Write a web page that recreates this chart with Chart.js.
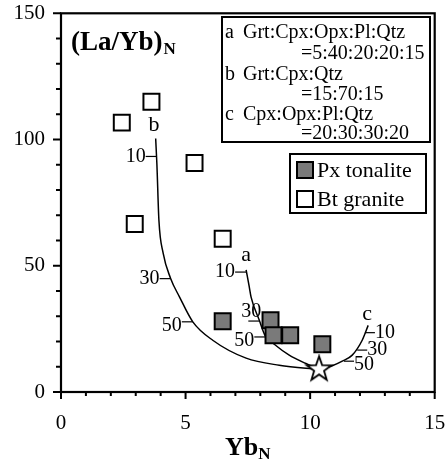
<!DOCTYPE html>
<html>
<head>
<meta charset="utf-8">
<script src="https://cdn.jsdelivr.net/npm/chart.js@4.4.1/dist/chart.umd.min.js"></script>
<style>
  body { margin: 0; background: #fff; }
  #wrap { width: 448px; height: 460px; }
</style>
</head>
<body>
<div id="wrap"><canvas id="mychart" width="448" height="460"></canvas></div>
<script>
// samples (Yb_N, (La/Yb)_N)
var pxTonalite = [[6.49, 28.0], [8.41, 28.4], [8.53, 22.5], [9.2, 22.5], [10.49, 18.9]];
var btGranite = [[3.63, 115], [2.44, 106.7], [5.36, 90.7], [2.96, 66.5], [6.49, 60.7]];
var source = [[10.36, 9.0]]; // the star

// melting curves
var curveA = [[7.43, 48.4], [7.55, 42], [7.63, 37.6], [7.96, 28.4], [8.2, 22.2], [8.56, 18.9], [9.16, 14.6], [9.83, 11.3], [10.36, 9.0]];
var curveB = [[3.80, 100.4], [3.85, 90], [3.93, 68], [4.1, 55], [4.40, 45], [4.76, 37.6], [5.29, 27.8], [6.09, 20.5], [7.43, 13.4], [8.76, 10.6], [10.09, 9.2], [10.36, 9.0]];
var curveC = [[10.36, 9.0], [10.89, 10.4], [11.29, 12.2], [11.69, 14.6], [12.09, 20.5], [12.33, 26.4]];

// % melt marks on each curve
var meltLabels = ['10', '30', '50'];
var ticksA = [[7.43, 47.5], [7.96, 28.1], [8.2, 21.8]];
var ticksB = [[3.84, 93.3], [4.40, 44.9], [5.29, 27.8]];
var ticksC = [[12.2, 23.5], [11.89, 16.6], [11.36, 12.2]];

var curveNames = ['a', 'b', 'c'];
var curveNamePos = [[7.43, 54], [3.73, 105.8], [12.29, 31]];

var mixLines = [
  ['a', 'Grt:Cpx:Opx:Pl:Qtz', '=5:40:20:20:15'],
  ['b', 'Grt:Cpx:Qtz', '=15:70:15'],
  ['c', 'Cpx:Opx:Pl:Qtz', '=20:30:30:20']
];

var xTicks = [0, 5, 10, 15];
var yTicks = [0, 50, 100, 150];

var serif = '"Liberation Serif", "Times New Roman", serif';

function toPts(arr) {
  return arr.map(function(p) { return { x: p[0], y: p[1] }; });
}

// five point star for the source point
function makeStar() {
  var c = document.createElement('canvas');
  c.width = 30; c.height = 30;
  var g = c.getContext('2d');
  var R = 13, r = 5.2;
  g.beginPath();
  for (var i = 0; i < 10; i++) {
    var rad = (i % 2 === 0) ? R : r;
    var ang = -Math.PI / 2 + i * Math.PI / 5;
    var px = 15 + rad * Math.cos(ang), py = 15 + rad * Math.sin(ang);
    if (i === 0) g.moveTo(px, py); else g.lineTo(px, py);
  }
  g.closePath();
  g.fillStyle = '#fff';
  g.fill();
  g.lineWidth = 1.8;
  g.strokeStyle = '#000';
  g.stroke();
  return c;
}

function curveSet(pts) {
  return {
    data: toPts(pts),
    showLine: true,
    borderColor: '#000',
    borderWidth: 1.5,
    pointRadius: 0,
    cubicInterpolationMode: 'monotone',
    fill: false
  };
}

// kill the auto label padding so the plot box sits where it should
function noPad(s) {
  s.paddingLeft = 0; s.paddingRight = 0; s.paddingTop = 0; s.paddingBottom = 0;
}

var decor = {
  id: 'decor',
  afterDraw: function(chart) {
    var ctx = chart.ctx;
    var xs = chart.scales.x, ys = chart.scales.y;
    var a = chart.chartArea;
    ctx.save();
    ctx.strokeStyle = '#000';
    ctx.fillStyle = '#000';

    // frame
    ctx.lineWidth = 2.2;
    ctx.strokeRect(a.left, a.top, a.right - a.left, a.bottom - a.top);

    // axis ticks (major + minor)
    ctx.lineWidth = 2;
    ctx.beginPath();
    for (var i = 0; i <= 15; i++) {
      var px = xs.getPixelForValue(i);
      var len = (i % 5 === 0) ? 7 : 4;
      ctx.moveTo(px, a.bottom);
      ctx.lineTo(px, a.bottom + len);
    }
    for (var j = 0; j <= 150; j += 10) {
      var py = ys.getPixelForValue(j);
      var l2 = (j % 50 === 0) ? 8 : 5;
      ctx.moveTo(a.left, py);
      ctx.lineTo(a.left - l2, py);
    }
    ctx.stroke();

    // melt % marks on the curves
    var sets = [ticksA, ticksB, ticksC];
    ctx.lineWidth = 1.2;
    ctx.font = '20px ' + serif;
    ctx.textBaseline = 'middle';
    sets.forEach(function(tk, ci) {
      tk.forEach(function(p, k) {
        var cx = xs.getPixelForValue(p[0]);
        var cy = ys.getPixelForValue(p[1]);
        ctx.beginPath();
        if (ci === 2) {
          // c marks point right
          ctx.moveTo(cx, cy); ctx.lineTo(cx + 10, cy); ctx.stroke();
          ctx.textAlign = 'left';
          ctx.fillText(meltLabels[k], cx + 10, cy + (k === 2 ? 4 : 0));
        } else {
          ctx.moveTo(cx, cy); ctx.lineTo(cx - 11, cy); ctx.stroke();
          ctx.textAlign = 'right';
          if (ci === 0 && k === 1) {
            ctx.fillText(meltLabels[k], cx + 2, cy - 9);
          } else {
            ctx.fillText(meltLabels[k], cx - 11, cy + (k === 2 ? 4 : 0));
          }
        }
      });
    });

    // curve letters
    ctx.font = '22px ' + serif;
    ctx.textAlign = 'center';
    curveNames.forEach(function(n, i) {
      ctx.fillText(n, xs.getPixelForValue(curveNamePos[i][0]), ys.getPixelForValue(curveNamePos[i][1]));
    });

    // y title inside the plot
    ctx.textAlign = 'left';
    ctx.textBaseline = 'alphabetic';
    ctx.font = 'bold 27px ' + serif;
    ctx.fillText('(La/Yb)', a.left + 10, 50);
    var w = ctx.measureText('(La/Yb)').width;
    ctx.font = 'bold 17px ' + serif;
    ctx.fillText('N', a.left + 10 + w + 1, 54);

    // x title
    ctx.font = 'bold 26px ' + serif;
    var w1 = ctx.measureText('Yb').width;
    ctx.font = 'bold 17px ' + serif;
    var w2 = ctx.measureText('N').width;
    var x0 = (a.left + a.right) / 2 - (w1 + w2) / 2;
    ctx.font = 'bold 26px ' + serif;
    ctx.fillText('Yb', x0, 455);
    ctx.font = 'bold 17px ' + serif;
    ctx.fillText('N', x0 + w1, 459);

    // mixture box
    ctx.fillStyle = '#fff';
    ctx.fillRect(222, 17, 208, 125);
    ctx.lineWidth = 2;
    ctx.strokeRect(222, 17, 208, 125);
    ctx.fillStyle = '#000';
    ctx.font = '20px ' + serif;
    var base = [38, 59, 79.5, 100, 119.5, 138.5];
    mixLines.forEach(function(m, i) {
      ctx.fillText(m[0], 225, base[i * 2]);
      ctx.fillText(m[1], 243, base[i * 2]);
      ctx.fillText(m[2], 301, base[i * 2 + 1]);
    });

    // legend box built from the sample datasets
    ctx.fillStyle = '#fff';
    ctx.fillRect(290, 154, 136, 59);
    ctx.strokeRect(290, 154, 136, 59);
    ctx.font = '22px ' + serif;
    ctx.textBaseline = 'middle';
    [0, 1].forEach(function(di, i) {
      var ds = chart.data.datasets[di];
      var cy = 170 + i * 29;
      ctx.fillStyle = ds.backgroundColor;
      ctx.fillRect(297, cy - 8, 16, 16);
      ctx.lineWidth = 2;
      ctx.strokeRect(297, cy - 8, 16, 16);
      ctx.fillStyle = '#000';
      ctx.fillText(ds.label, 317, cy + 1);
    });

    ctx.restore();
  }
};

var ctx = document.getElementById('mychart').getContext('2d');
var myChart = new Chart(ctx, {
  type: 'scatter',
  data: {
    datasets: [
      {
        label: 'Px tonalite',
        data: toPts(pxTonalite),
        pointStyle: 'rect',
        pointRadius: 11.3,
        backgroundColor: '#7a7a7a',
        borderColor: '#000',
        borderWidth: 2
      },
      {
        label: 'Bt granite',
        data: toPts(btGranite),
        pointStyle: 'rect',
        pointRadius: 11.3,
        backgroundColor: '#fff',
        borderColor: '#000',
        borderWidth: 2
      },
      {
        label: 'source',
        data: toPts(source),
        pointStyle: makeStar(),
        pointRadius: 12
      },
      curveSet(curveA),
      curveSet(curveB),
      curveSet(curveC)
    ]
  },
  options: {
    responsive: false,
    animation: false,
    layout: { padding: { top: 12, right: 12, left: 0, bottom: 0 } },
    plugins: { legend: { display: false }, tooltip: { enabled: false } },
    scales: {
      x: {
        type: 'linear', min: 0, max: 15,
        afterBuildTicks: function(s) { s.ticks = xTicks.map(function(v) { return { value: v }; }); },
        afterFit: function(s) { s.height = 68; noPad(s); },
        ticks: { color: '#000', padding: 12, font: { family: serif, size: 21, lineHeight: 1.1 } },
        grid: { display: false, drawTicks: true, tickLength: 8 },
        border: { display: false }
      },
      y: {
        type: 'linear', min: 0, max: 150,
        afterBuildTicks: function(s) { s.ticks = yTicks.map(function(v) { return { value: v }; }); },
        afterFit: function(s) { s.width = 61; noPad(s); },
        ticks: { color: '#000', padding: 8, font: { family: serif, size: 21, lineHeight: 1.1 } },
        grid: { display: false, drawTicks: true, tickLength: 8 },
        border: { display: false }
      }
    }
  },
  plugins: [decor]
});
</script>
</body>
</html>
